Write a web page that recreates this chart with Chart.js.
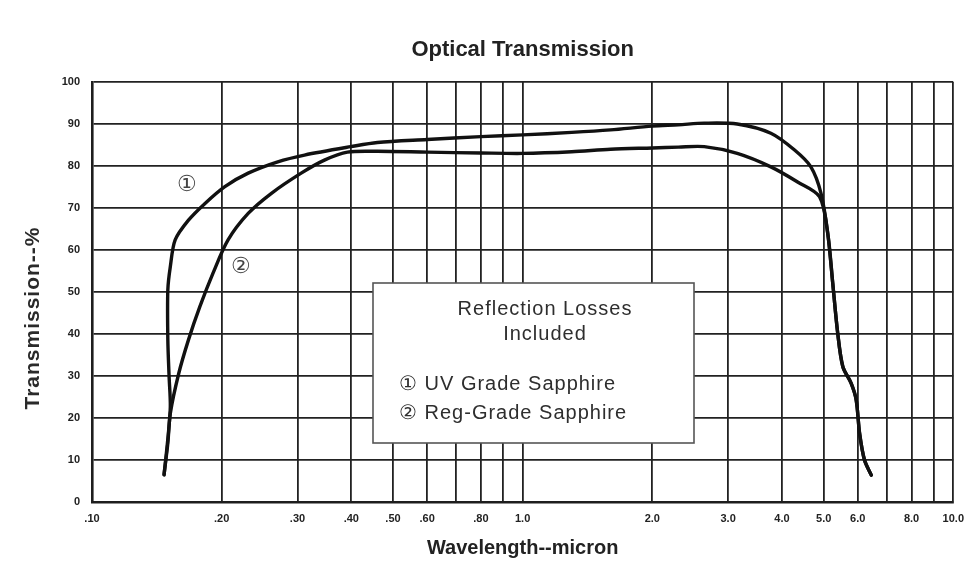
<!DOCTYPE html>
<html>
<head>
<meta charset="utf-8">
<script src="https://cdn.jsdelivr.net/npm/chart.js@4.4.1/dist/chart.umd.min.js"></script>
<style>
  html, body { margin: 0; padding: 0; background: #ffffff; }
  #wrap { width: 974px; height: 570px; }
</style>
</head>
<body>
<div id="wrap"><canvas id="c" width="974" height="570"></canvas></div>
<script>
// ---------- data ----------
const chartTitle = 'Optical Transmission';
const xAxisTitle = 'Wavelength--micron';
const yAxisTitle = 'Transmission--%';

const xTickValues = [0.1, 0.2, 0.3, 0.4, 0.5, 0.6, 0.7, 0.8, 0.9, 1, 2, 3, 4, 5, 6, 7, 8, 9, 10];
const xTickLabels = ['.10', '.20', '.30', '.40', '.50', '.60', '', '.80', '', '1.0', '2.0', '3.0', '4.0', '5.0', '6.0', '', '8.0', '', '10.0'];
const yTickValues = [0, 10, 20, 30, 40, 50, 60, 70, 80, 90, 100];
const yTickLabels = ['0', '10', '20', '30', '40', '50', '60', '70', '80', '90', '100'];

const seriesNames = ['UV Grade Sapphire', 'Reg-Grade Sapphire'];
const seriesMarks = ['\u2460', '\u2461'];

// Series 1: UV Grade Sapphire
const uvWavelength = [0.147, 0.150, 0.152, 0.151, 0.150, 0.150, 0.152, 0.156, 0.1675, 0.183, 0.2035, 0.2305, 0.270, 0.3115, 0.399, 0.46, 0.6, 0.8, 1.0, 1.3, 1.6, 2.0, 2.3, 2.64, 3.15, 3.77, 4.28, 4.67, 4.93, 5.11, 5.25, 5.39, 5.54, 5.79, 5.95, 6.06, 6.22, 6.45];
const uvTransmission = [6.5, 15, 22.7, 30, 38.6, 50.5, 56, 62.4, 67.1, 71.1, 75.1, 78.3, 81.0, 82.6, 84.6, 85.6, 86.3, 87.0, 87.4, 88.0, 88.6, 89.5, 89.8, 90.2, 90.0, 87.8, 83.8, 79.8, 73.5, 64, 52, 40.2, 32.2, 28.3, 24.3, 16.3, 10, 6.4];

// Series 2: Reg-Grade Sapphire
const regWavelength = [0.147, 0.150, 0.152, 0.159, 0.1675, 0.178, 0.191, 0.207, 0.2305, 0.261, 0.306, 0.3465, 0.392, 0.46, 0.6, 0.8, 1.0, 1.3, 1.6, 2.0, 2.3, 2.64, 3.15, 3.77, 4.35, 4.89, 5.11, 5.25, 5.39, 5.54, 5.79, 5.95, 6.06, 6.22, 6.45];
const regTransmission = [6.5, 14, 21.1, 30.6, 38.6, 46.5, 54.5, 62.4, 68.7, 73.5, 78.3, 81.4, 83.3, 83.5, 83.3, 83.1, 83.0, 83.4, 84.0, 84.3, 84.5, 84.6, 83.0, 79.8, 76.2, 72.7, 64, 52, 40.2, 32.2, 28.3, 24.3, 16.3, 10, 6.4];

const noteLines = ['Reflection Losses', 'Included'];

// ---------- helpers ----------
function toPoints(xs, ys) { return xs.map((x, i) => ({ x: x, y: ys[i] })); }

const SANS = "'Liberation Sans', Arial, Helvetica, sans-serif";

// annotation plugin: note box, curve markers, rotated y title
const annotations = {
  id: 'annotations',
  afterDatasetsDraw(chart) {
    const ctx = chart.ctx;
    const xs = chart.scales.x, ys = chart.scales.y;
    ctx.save();
    // note box
    const bx = 373, by = 283, bw = 321, bh = 160;
    ctx.fillStyle = '#ffffff';
    ctx.fillRect(bx, by, bw, bh);
    ctx.strokeStyle = '#555555';
    ctx.lineWidth = 1.6;
    ctx.strokeRect(bx, by, bw, bh);
    ctx.fillStyle = '#2e2e2e';
    ctx.font = '20px ' + SANS;
    ctx.letterSpacing = '1px';
    ctx.textAlign = 'center';
    ctx.textBaseline = 'middle';
    ctx.fillText(noteLines[0], 545, 309);
    ctx.fillText(noteLines[1], 545, 334);
    ctx.textAlign = 'left';
    ctx.fillText(seriesMarks[0] + ' ' + seriesNames[0], 399, 384);
    ctx.fillText(seriesMarks[1] + ' ' + seriesNames[1], 399, 413);
    // curve markers placed in data units
    ctx.letterSpacing = '0px';
    ctx.textAlign = 'center';
    ctx.font = '22px ' + SANS;
    ctx.fillStyle = '#444444';
    ctx.fillText(seriesMarks[0], xs.getPixelForValue(0.166), ys.getPixelForValue(75.5));
    ctx.fillText(seriesMarks[1], xs.getPixelForValue(0.222), ys.getPixelForValue(56));
    // y axis title
    ctx.translate(33, 318);
    ctx.rotate(-Math.PI / 2);
    ctx.font = 'bold 21px ' + SANS;
    ctx.letterSpacing = '1px';
    ctx.fillStyle = '#2a2a2a';
    ctx.fillText(yAxisTitle, 0, 0);
    ctx.restore();
  }
};

new Chart(document.getElementById('c'), {
  type: 'scatter',
  data: {
    datasets: [
      { label: seriesNames[0], data: toPoints(uvWavelength, uvTransmission) },
      { label: seriesNames[1], data: toPoints(regWavelength, regTransmission) }
    ]
  },
  options: {
    responsive: false,
    animation: false,
    devicePixelRatio: 1,
    layout: { padding: { top: 37, right: 19, bottom: 0, left: 0 } },
    elements: {
      line: { borderColor: '#111111', borderWidth: 3.4, tension: 0.3, fill: false, borderCapStyle: 'round', borderJoinStyle: 'round' },
      point: { radius: 0, hoverRadius: 0 }
    },
    datasets: { scatter: { showLine: true } },
    plugins: {
      legend: { display: false },
      tooltip: { enabled: false },
      title: {
        display: true,
        text: chartTitle,
        fullSize: false,
        color: '#222222',
        font: { family: SANS, size: 22, weight: 'bold' },
        padding: { top: 0, bottom: 18.6 }
      }
    },
    scales: {
      x: {
        type: 'logarithmic',
        position: 'bottom',
        min: 0.1,
        max: 10,
        afterBuildTicks: (s) => { s.ticks = xTickValues.map(v => ({ value: v })); },
        afterFit: (s) => { s.height = 68; },
        ticks: {
          autoSkip: false,
          maxRotation: 0,
          padding: 10,
          color: '#222222',
          font: { family: SANS, size: 11, weight: 'bold' },
          callback: (v, i) => xTickLabels[i]
        },
        grid: { color: '#222222', lineWidth: 1.8, drawTicks: false },
        border: { color: '#1e1e1e', width: 2.6 },
        title: {
          display: true,
          text: xAxisTitle,
          color: '#222222',
          font: { family: SANS, size: 20, weight: 'bold' },
          padding: { top: 0, bottom: 10 }
        }
      },
      y: {
        type: 'linear',
        min: 0,
        max: 100,
        afterBuildTicks: (s) => { s.ticks = yTickValues.map(v => ({ value: v })); },
        afterFit: (s) => { s.width = 92; },
        ticks: {
          padding: 12,
          color: '#222222',
          font: { family: SANS, size: 11, weight: 'bold' },
          callback: (v, i) => yTickLabels[i]
        },
        grid: { color: '#222222', lineWidth: 1.8, drawTicks: false },
        border: { color: '#1e1e1e', width: 2.6 }
      }
    }
  },
  plugins: [annotations]
});
</script>
</body>
</html>
